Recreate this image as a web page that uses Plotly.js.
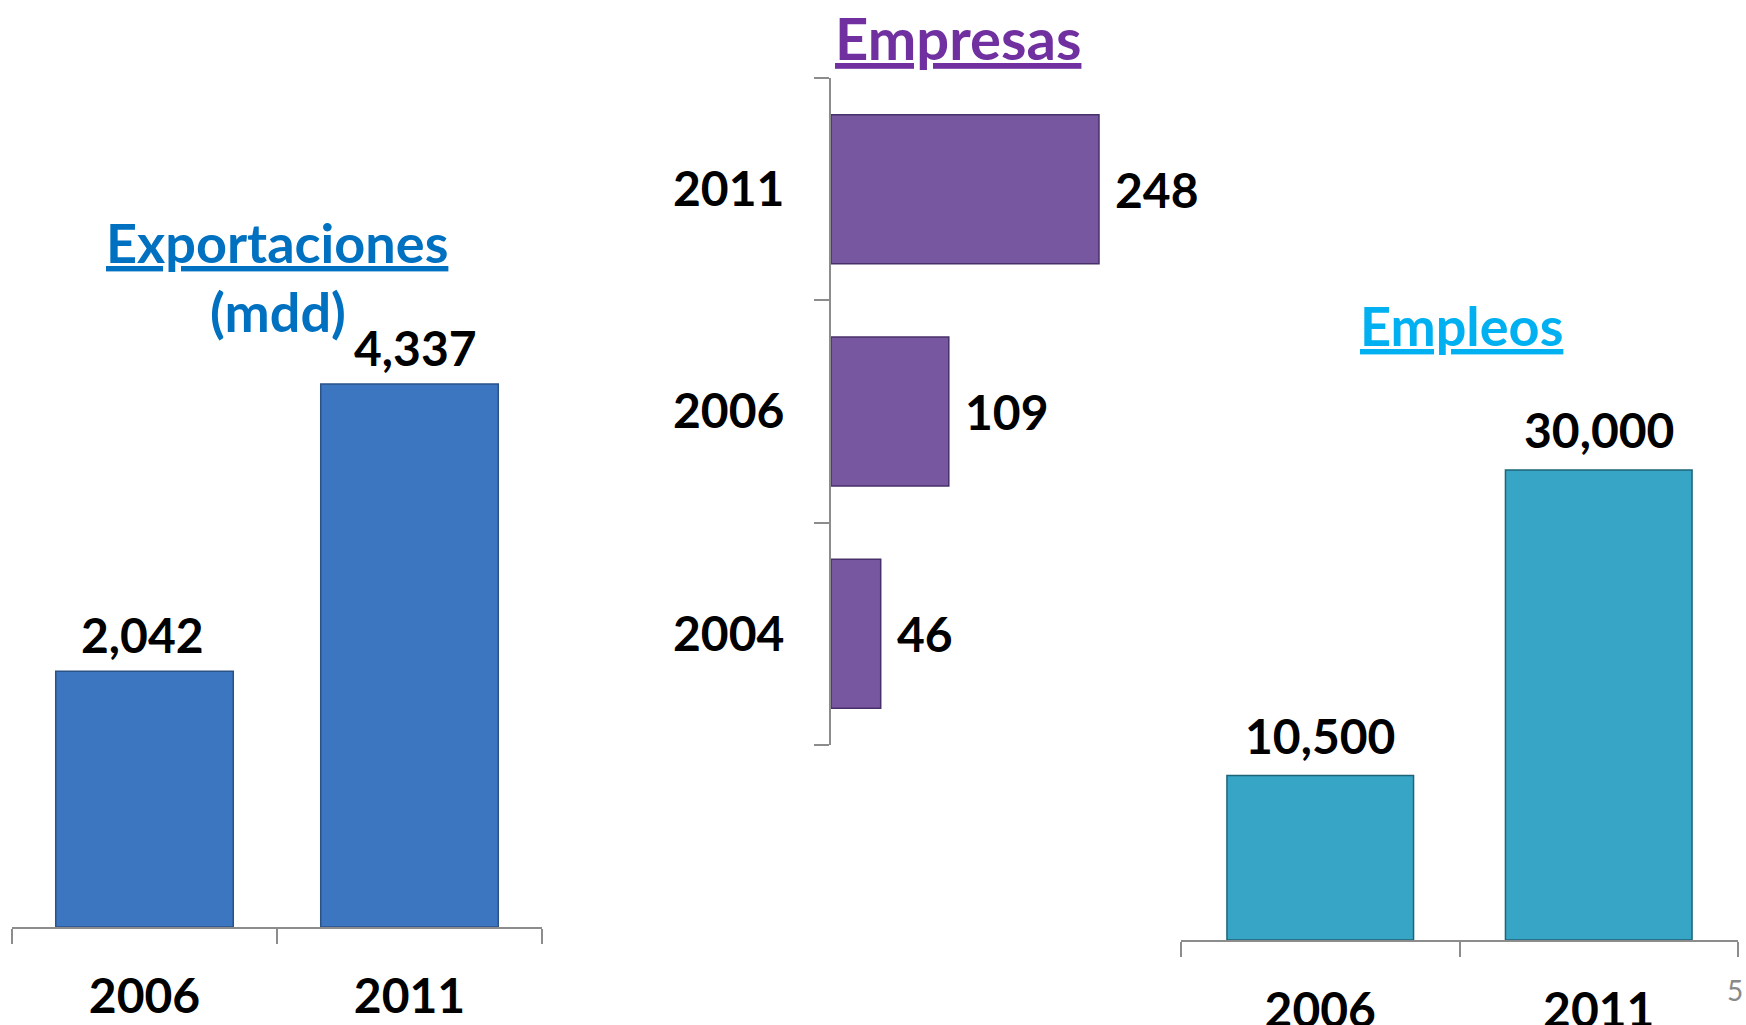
<!DOCTYPE html>
<html>
<head>
<meta charset="utf-8">
<script src="https://cdn.plot.ly/plotly-3.0.1.min.js"></script>
<style>
  html, body { margin: 0; padding: 0; background: #ffffff; }
  #chart { width: 1746px; height: 1025px; }
</style>
</head>
<body>
<div id="chart"></div>
<script>
// ---- data ----
const expCategories = ['2006', '2011'];
const expValues = [2042, 4337];
const empCategories = ['2004', '2006', '2011'];
const empValues = [46, 109, 248];
const jobCategories = ['2006', '2011'];
const jobValues = [10500, 30000];
const titleExp = 'Exportaciones';
const subtitleExp = '(mdd)';
const titleEmp = 'Empresas';
const titleJob = 'Empleos';
const slideNumber = '5';

// ---- layout helpers ----
const W = 1746, H = 1025;
const fx = p => p / W;
const fy = p => 1 - p / H;
const FONT = 'Lato, "Open Sans", sans-serif';
const AXIS_GRAY = '#8C8C8C';

const fmt = v => v.toLocaleString('en-US');

const traces = [
  {
    type: 'bar', x: expCategories, y: expValues, xaxis: 'x', yaxis: 'y',
    marker: { color: '#3C75C0', line: { color: '#2A5286', width: 1.5 } },
    hoverinfo: 'skip'
  },
  {
    type: 'bar', orientation: 'h', x: empValues, y: empCategories, xaxis: 'x2', yaxis: 'y2',
    marker: { color: '#7657A0', line: { color: '#48306A', width: 1.5 } },
    hoverinfo: 'skip'
  },
  {
    type: 'bar', x: jobCategories, y: jobValues, xaxis: 'x3', yaxis: 'y3',
    marker: { color: '#37A6C6', line: { color: '#1E6478', width: 1.5 } },
    hoverinfo: 'skip'
  }
];

const tickFont = { family: FONT, size: 48, color: '#000000', weight: 700 };
const catAxisBase = {
  type: 'category', showline: true, linecolor: AXIS_GRAY, linewidth: 2,
  ticks: 'outside', tickson: 'boundaries', ticklen: 15, tickwidth: 2, tickcolor: AXIS_GRAY,
  tickfont: tickFont, showgrid: false, zeroline: false, fixedrange: true, autorange: false
};
const hiddenAxis = { visible: false, showgrid: false, zeroline: false, fixedrange: true, autorange: false };

// chart geometry (pixels)
const c1 = { left: 12, right: 542, base: 927, top: 201 };
const c2 = { axis: 831, top: 78, bottom: 745, pxPerUnit: 1.0806, max: 290 };
const c3 = { left: 1181, right: 1738, base: 940, top: 315 };

const annotations = [];
expCategories.forEach((c, i) => annotations.push({
  xref: 'x', yref: 'y', x: i, y: expValues[i], text: fmt(expValues[i]),
  showarrow: false, yanchor: 'bottom', yshift: 6, xshift: i === 1 ? 6 : -2, font: tickFont
}));
empCategories.forEach((c, i) => annotations.push({
  xref: 'x2', yref: 'y2', x: empValues[i], y: i, text: fmt(empValues[i]),
  showarrow: false, xanchor: 'left', xshift: 14, font: tickFont
}));
jobCategories.forEach((c, i) => annotations.push({
  xref: 'x3', yref: 'y3', x: i, y: jobValues[i], text: fmt(jobValues[i]),
  showarrow: false, yanchor: 'bottom', yshift: 10, font: tickFont
}));

const titleFont = (color, under, size) => ({ family: FONT, size: size, color: color, weight: 700, lineposition: under ? 'under' : 'none' });
annotations.push(
  { xref: 'paper', yref: 'paper', x: fx(277), y: fy(242), text: titleExp, showarrow: false, xanchor: 'center', yanchor: 'middle', font: titleFont('#0070C0', true, 54) },
  { xref: 'paper', yref: 'paper', x: fx(278), y: fy(311), text: subtitleExp, showarrow: false, xanchor: 'center', yanchor: 'middle', font: titleFont('#0070C0', false, 54) },
  { xref: 'paper', yref: 'paper', x: fx(958), y: 1, text: titleEmp, showarrow: false, xanchor: 'center', yanchor: 'top', yshift: -1, font: titleFont('#7030A0', true, 58) },
  { xref: 'paper', yref: 'paper', x: fx(1461), y: fy(325), text: titleJob, showarrow: false, xanchor: 'center', yanchor: 'middle', font: titleFont('#00B0F0', true, 54) },
  { xref: 'paper', yref: 'paper', x: fx(1735), y: fy(990), text: slideNumber, showarrow: false, xanchor: 'center', yanchor: 'middle', font: { family: FONT, size: 28, color: '#898989' } }
);

const layout = {
  width: W, height: H,
  margin: { l: 0, r: 0, t: 0, b: 0, pad: 0 },
  paper_bgcolor: '#ffffff', plot_bgcolor: 'rgba(0,0,0,0)',
  showlegend: false, bargap: 0.33,
  xaxis: Object.assign({}, catAxisBase, { domain: [fx(c1.left), fx(c1.right)], range: [-0.5, expCategories.length - 0.5], anchor: 'y', ticklabelstandoff: 26 }),
  yaxis: Object.assign({}, hiddenAxis, { domain: [fy(c1.base), fy(c1.top)], range: [0, 4337 * (c1.base - c1.top) / (c1.base - 384)], anchor: 'x' }),
  xaxis2: Object.assign({}, hiddenAxis, { domain: [fx(c2.axis), fx(c2.axis + c2.max * c2.pxPerUnit)], range: [0, c2.max], anchor: 'y2' }),
  yaxis2: Object.assign({}, catAxisBase, { domain: [fy(c2.bottom), fy(c2.top)], range: [-0.5, empCategories.length - 0.5], anchor: 'x2', ticklabelstandoff: 35 }),
  xaxis3: Object.assign({}, catAxisBase, { domain: [fx(c3.left), fx(c3.right)], range: [-0.5, jobCategories.length - 0.5], anchor: 'y3', ticklabelstandoff: 27 }),
  yaxis3: Object.assign({}, hiddenAxis, { domain: [fy(c3.base), fy(c3.top)], range: [0, 30000 * (c3.base - c3.top) / (c3.base - 470)], anchor: 'x3' }),
  annotations: annotations
};

Plotly.newPlot('chart', traces, layout, { staticPlot: true, displayModeBar: false });
</script>
</body>
</html>
